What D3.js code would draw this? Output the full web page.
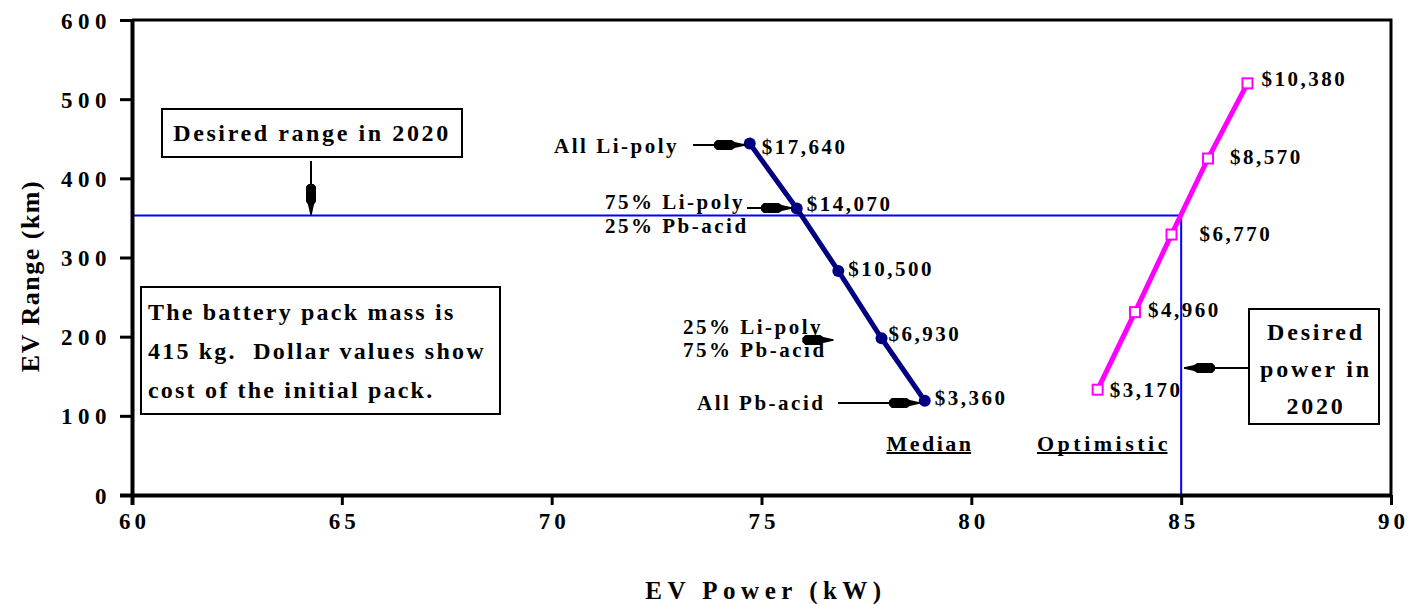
<!DOCTYPE html>
<html>
<head>
<meta charset="utf-8">
<script src="https://cdn.jsdelivr.net/npm/d3@7"></script>
<style>
  html, body { margin: 0; padding: 0; background: #fff; }
  svg text { font-family: "Liberation Serif", "Times New Roman", serif; font-weight: bold; fill: #000; white-space: pre; }
</style>
</head>
<body>
<svg id="chart" width="1408" height="604"></svg>
<script>
// ---------------- DATA ----------------
const xTicks = [60, 65, 70, 75, 80, 85, 90];
const yTicks = [0, 100, 200, 300, 400, 500, 600];

const medianPower = [74.72, 75.84, 76.83, 77.86, 78.89];
const medianRange = [444, 362, 283, 198, 119];
const medianCost  = ["$17,640", "$14,070", "$10,500", "$6,930", "$3,360"];

const optPower = [86.58, 85.64, 84.77, 83.90, 83.01];
const optRange = [520, 425, 329, 231, 133];
const optCost  = ["$10,380", "$8,570", "$6,770", "$4,960", "$3,170"];

const compositionLabels = [
  ["All Li-poly"],
  ["75% Li-poly", "25% Pb-acid"],
  ["25% Li-poly", "75% Pb-acid"],
  ["All Pb-acid"]
];

const desiredRange = 353;
const desiredPower = 85;

const xTitle = "EV Power (kW)";
const yTitle = "EV Range (km)";
const seriesNames = ["Median", "Optimistic"];
const rangeBoxText = "Desired range in 2020";
const powerBoxText = ["Desired", "power in", "2020"];
const noteText = ["The battery pack mass is", "415 kg.  Dollar values show", "cost of the initial pack."];

// ---------------- LAYOUT ----------------
const svg = d3.select("#chart");
const L = 132, R = 1391, T = 20, B = 495;
const x = d3.scaleLinear().domain([60, 90]).range([L, R]);
const y = d3.scaleLinear().domain([0, 600]).range([B, T]);

// label offsets (pixels) relative to their points
const medOff = [[12, 3], [10, -5], [10, -2], [7, -5], [10, -3]];
const optOff = [[14, -5], [22, -2], [28, -1], [13, -2], [12, 0]];

// arrow marker
const defs = svg.append("defs");
defs.append("marker")
  .attr("id", "ah").attr("markerUnits", "userSpaceOnUse")
  .attr("viewBox", "0 -7 32 14").attr("refX", 31).attr("refY", 0)
  .attr("markerWidth", 32).attr("markerHeight", 14).attr("orient", "auto")
  .append("path")
  .attr("d", "M0,-2 L3,-5 L18,-5 L21,-3 L31,-0.8 L31,0.8 L21,3 L18,5 L3,5 L0,2 Z")
  .attr("fill", "#000");

// frame (top + right)
svg.append("path")
  .attr("d", `M${L},${T} H${R} V${B}`)
  .attr("fill", "none").attr("stroke", "#000").attr("stroke-width", 3);

// desired lines
svg.append("line")
  .attr("x1", x(60)).attr("x2", x(desiredPower))
  .attr("y1", y(desiredRange)).attr("y2", y(desiredRange))
  .attr("stroke", "#0000FF").attr("stroke-width", 2);
svg.append("line")
  .attr("x1", x(desiredPower)).attr("x2", x(desiredPower))
  .attr("y1", y(desiredRange)).attr("y2", y(0))
  .attr("stroke", "#0000FF").attr("stroke-width", 2);

// axes
const xAxis = d3.axisBottom(x).tickValues(xTicks).tickSize(10).tickFormat(d3.format("d"));
const gx = svg.append("g").attr("transform", `translate(0,${B})`).call(xAxis);
gx.select(".domain").attr("stroke-width", 4).attr("d", `M${L - 12},0.5H${R}`);
gx.selectAll(".tick line").attr("stroke-width", 3);
gx.selectAll(".tick text").attr("y", 26).attr("dy", "0.35em")
  .style("font-size", "23px").style("letter-spacing", "4px")
  .attr("dx", "2px");

const yAxis = d3.axisLeft(y).tickValues(yTicks).tickSize(12).tickFormat(d3.format("d"));
const gy = svg.append("g").attr("transform", `translate(${L},0)`).call(yAxis);
gy.select(".domain").attr("stroke-width", 4).attr("d", `M0.5,${T}V${B + 10}`);
gy.selectAll(".tick line").attr("stroke-width", 3);
gy.selectAll(".tick text").attr("x", -20).attr("dy", "0.35em")
  .style("font-size", "23px").style("letter-spacing", "5.5px");

// axis titles
svg.append("text").attr("x", 766).attr("y", 590).attr("dy", "0.35em")
  .attr("text-anchor", "middle").style("font-size", "25px").style("letter-spacing", "5.5px")
  .text(xTitle);
svg.append("text").attr("transform", `translate(30,276) rotate(-90)`).attr("dy", "0.35em")
  .attr("text-anchor", "middle").style("font-size", "26px").style("letter-spacing", "1.5px")
  .text(yTitle);

// series lines
const lineGen = d3.line().x(d => x(d[0])).y(d => y(d[1]));
const medPts = medianPower.map((p, i) => [p, medianRange[i]]);
const optPts = optPower.map((p, i) => [p, optRange[i]]);

svg.append("path").datum(medPts).attr("d", lineGen)
  .attr("fill", "none").attr("stroke", "#000080").attr("stroke-width", 5);
svg.append("path").datum(optPts).attr("d", lineGen)
  .attr("fill", "none").attr("stroke", "#FF00FF").attr("stroke-width", 5);

svg.selectAll("circle.med").data(medPts).enter().append("circle")
  .attr("class", "med").attr("cx", d => x(d[0])).attr("cy", d => y(d[1])).attr("r", 6)
  .attr("fill", "#000080");
svg.selectAll("rect.opt").data(optPts).enter().append("rect")
  .attr("class", "opt").attr("x", d => x(d[0]) - 5).attr("y", d => y(d[1]) - 5)
  .attr("width", 10).attr("height", 10)
  .attr("fill", "#fff").attr("stroke", "#FF00FF").attr("stroke-width", 2);

// cost labels
const labelStyle = sel => sel.attr("dy", "0.35em").style("font-size", "21px").style("letter-spacing", "2.5px");
svg.selectAll("text.medc").data(medPts).enter().append("text")
  .attr("class", "medc")
  .attr("x", (d, i) => x(d[0]) + medOff[i][0]).attr("y", (d, i) => y(d[1]) + medOff[i][1])
  .call(labelStyle).text((d, i) => medianCost[i]);
svg.selectAll("text.optc").data(optPts).enter().append("text")
  .attr("class", "optc")
  .attr("x", (d, i) => x(d[0]) + optOff[i][0]).attr("y", (d, i) => y(d[1]) + optOff[i][1])
  .call(labelStyle).text((d, i) => optCost[i]);

// composition labels with arrows
const compLayout = [
  { pi: 0, tx: 679, ty: 146, anchor: "end",   ax: 693, ay: 145 },
  { pi: 1, tx: 605, ty: 202, anchor: "start", ax: 747, ay: 208, gap: 31 },
  { pi: 2, tx: 683, ty: 327, anchor: "start", ax: 832, ay: 340, gap: 30 },
  { pi: 4, tx: 697, ty: 403, anchor: "start", ax: 838, ay: 403 }
];
compLayout.forEach((c, k) => {
  const pt = medPts[c.pi];
  const t = svg.append("text").attr("x", c.tx).attr("y", c.ty)
    .attr("text-anchor", c.anchor).call(labelStyle);
  compositionLabels[k].forEach((line, j) => {
    t.append("tspan").attr("x", c.tx).attr("y", c.ty + j * (c.gap || 0)).text(line);
  });
  svg.append("line").attr("x1", c.ax).attr("y1", c.ay)
    .attr("x2", x(pt[0]) - 5).attr("y2", c.ay)
    .attr("stroke", "#000").attr("stroke-width", 2).attr("marker-end", "url(#ah)");
});

// series name labels (underlined)
const nameLayout = [[930, 443, 2.5], [1104, 443, 3.5]];
seriesNames.forEach((n, i) => {
  const t = svg.append("text").attr("x", nameLayout[i][0]).attr("y", nameLayout[i][1])
    .attr("text-anchor", "middle").attr("dy", "0.35em")
    .style("font-size", "22px").style("letter-spacing", nameLayout[i][2] + "px").text(n);
  const bb = t.node().getBBox();
  svg.append("line").attr("x1", bb.x).attr("x2", bb.x + bb.width - nameLayout[i][2])
    .attr("y1", 453).attr("y2", 453).attr("stroke", "#000").attr("stroke-width", 2);
});

// Desired range box
svg.append("rect").attr("x", 162).attr("y", 109).attr("width", 300).attr("height", 48)
  .attr("fill", "#fff").attr("stroke", "#000").attr("stroke-width", 2);
svg.append("text").attr("x", 312).attr("y", 133).attr("dy", "0.35em").attr("text-anchor", "middle")
  .style("font-size", "24px").style("letter-spacing", "2.6px").text(rangeBoxText);
svg.append("line").attr("x1", 311).attr("y1", 161).attr("x2", 311).attr("y2", y(desiredRange) - 1)
  .attr("stroke", "#000").attr("stroke-width", 2).attr("marker-end", "url(#ah)");

// Note box
svg.append("rect").attr("x", 141).attr("y", 287).attr("width", 359).attr("height", 127)
  .attr("fill", "#fff").attr("stroke", "#000").attr("stroke-width", 2);
const nt = svg.append("text").style("font-size", "24px").style("letter-spacing", "2.2px");
noteText.forEach((line, j) => {
  nt.append("tspan").attr("x", 148).attr("y", 320 + j * 39).text(line);
});

// Desired power box
svg.append("rect").attr("x", 1249).attr("y", 309).attr("width", 130).attr("height", 115)
  .attr("fill", "#fff").attr("stroke", "#000").attr("stroke-width", 2);
const pt = svg.append("text").attr("text-anchor", "middle").style("font-size", "24px").style("letter-spacing", "2.8px");
powerBoxText.forEach((line, j) => {
  pt.append("tspan").attr("x", 1316).attr("y", 332 + j * 37).attr("dy", "0.35em").text(line);
});
svg.append("line").attr("x1", 1249).attr("y1", 368).attr("x2", x(desiredPower) + 3).attr("y2", 368)
  .attr("stroke", "#000").attr("stroke-width", 2).attr("marker-end", "url(#ah)");
</script>
</body>
</html>
